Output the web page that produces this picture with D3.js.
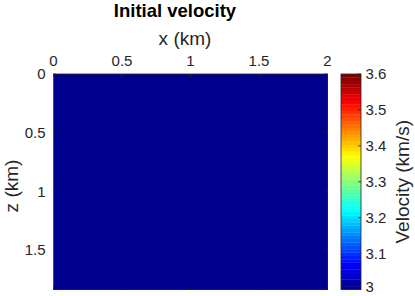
<!DOCTYPE html>
<html>
<head>
<meta charset="utf-8">
<script src="https://cdn.jsdelivr.net/npm/d3@7"></script>
<style>
  html, body { margin: 0; padding: 0; background: #fff; }
  svg { display: block; font-family: "Liberation Sans", Arial, sans-serif; }
</style>
</head>
<body>
<svg id="chart" width="415" height="296"></svg>
<script>
// Model grid (km) and velocity in each cell (km/s):
var xEdges = [0, 0.5, 1, 1.5, 2];
var zEdges = [0, 0.5, 1, 1.5, 1.84];
var velocity = [
  [3, 3, 3, 3],
  [3, 3, 3, 3],
  [3, 3, 3, 3],
  [3, 3, 3, 3]
];

var xTicks = [0, 0.5, 1, 1.5, 2];
var zTicks = [0, 0.5, 1, 1.5];
var cbTicks = [3, 3.1, 3.2, 3.3, 3.4, 3.5, 3.6];
var cbDomain = [3, 3.6];

var svg = d3.select("#chart");
var axisColor = "#262626";

// Plot box:
var plot = { left: 53.5, right: 327.5, top: 74, bottom: 289.5 };
var cb = { left: 341, right: 361, top: 74, bottom: 289.5 };

var x = d3.scaleLinear().domain([0, 2]).range([plot.left, plot.right]);
var z = d3.scaleLinear().domain([0, 1.84]).range([plot.top, plot.bottom]);

/** MATLAB's jet colormap, same recipe as jet.m */
function jet(n) {
  var m = Math.ceil(n / 4);
  var u = [];
  for (var i = 1; i <= m; i++) u.push(i / m);
  for (var i = 1; i < m; i++) u.push(1);
  for (var i = m; i >= 1; i--) u.push(i / m);
  var off = Math.ceil(m / 2) - (n % 4 === 1 ? 1 : 0);
  var rows = d3.range(n).map(function() { return [0, 0, 0]; });
  u.forEach(function(v, k) {
    var g = off + k + 1, r = g + m, b = g - m;
    if (r >= 1 && r <= n) rows[r - 1][0] = v;
    if (g >= 1 && g <= n) rows[g - 1][1] = v;
    if (b >= 1 && b <= n) rows[b - 1][2] = v;
  });
  return rows.map(function(c) {
    return d3.rgb(c[0] * 255, c[1] * 255, c[2] * 255).formatHex();
  });
}
var cmap = jet(64);
var colorOf = d3.scaleQuantize().domain(cbDomain).range(cmap);

// The velocity cells:
var cells = [];
velocity.forEach(function(row, j) {
  row.forEach(function(v, i) {
    cells.push({ x0: xEdges[i], x1: xEdges[i + 1], z0: zEdges[j], z1: zEdges[j + 1], v: v });
  });
});
svg.append("g").selectAll("rect")
  .data(cells)
  .enter().append("rect")
  .attr("x", function(d) { return x(d.x0); })
  .attr("y", function(d) { return z(d.z0); })
  .attr("width", function(d) { return x(d.x1) - x(d.x0) + 0.5; })
  .attr("height", function(d) { return z(d.z1) - z(d.z0) + 0.5; })
  .attr("fill", function(d) { return colorOf(d.v); })
  .attr("shape-rendering", "crispEdges");

// Box and inward ticks on all four sides:
var tl = 3;
var frame = svg.append("g").attr("stroke", axisColor).attr("stroke-width", 0.8).attr("fill", "none");
frame.append("rect")
  .attr("x", plot.left).attr("y", plot.top)
  .attr("width", plot.right - plot.left).attr("height", plot.bottom - plot.top);
xTicks.forEach(function(t) {
  frame.append("line").attr("x1", x(t)).attr("x2", x(t)).attr("y1", plot.top).attr("y2", plot.top + tl);
  frame.append("line").attr("x1", x(t)).attr("x2", x(t)).attr("y1", plot.bottom).attr("y2", plot.bottom - tl);
});
zTicks.forEach(function(t) {
  frame.append("line").attr("x1", plot.left).attr("x2", plot.left + tl).attr("y1", z(t)).attr("y2", z(t));
  frame.append("line").attr("x1", plot.right).attr("x2", plot.right - tl).attr("y1", z(t)).attr("y2", z(t));
});

// Tick labels:
var fmt = function(d) { return String(d); };
svg.append("g").selectAll("text")
  .data(xTicks)
  .enter().append("text")
  .attr("x", function(d) { return x(d); })
  .attr("y", 65.5)
  .attr("text-anchor", "middle")
  .attr("font-size", 15)
  .attr("fill", axisColor)
  .text(fmt);
svg.append("g").selectAll("text")
  .data(zTicks)
  .enter().append("text")
  .attr("x", 45.5)
  .attr("y", function(d) { return z(d); })
  .attr("dy", "0.36em")
  .attr("text-anchor", "end")
  .attr("font-size", 15)
  .attr("fill", axisColor)
  .text(fmt);

// Axis labels and title:
svg.append("text")
  .attr("x", 185).attr("y", 45)
  .attr("text-anchor", "middle")
  .attr("font-size", 19)
  .attr("fill", axisColor)
  .text("x (km)");
svg.append("text")
  .attr("transform", "translate(18,186) rotate(-90)")
  .attr("text-anchor", "middle")
  .attr("font-size", 19)
  .attr("fill", axisColor)
  .text("z (km)");
svg.append("text")
  .attr("x", 175).attr("y", 16.5)
  .attr("text-anchor", "middle")
  .attr("font-size", 18.5)
  .attr("font-weight", "bold")
  .attr("fill", "#000")
  .text("Initial velocity");

// Colorbar: one band per colormap entry
var cbY = d3.scaleLinear().domain(cbDomain).range([cb.bottom, cb.top]);
var step = (cbDomain[1] - cbDomain[0]) / cmap.length;
svg.append("g").selectAll("rect")
  .data(cmap)
  .enter().append("rect")
  .attr("x", cb.left)
  .attr("width", cb.right - cb.left)
  .attr("y", function(d, i) { return cbY(cbDomain[0] + (i + 1) * step); })
  .attr("height", function(d, i) { return cbY(cbDomain[0] + i * step) - cbY(cbDomain[0] + (i + 1) * step) + 0.3; })
  .attr("fill", function(d) { return d; });
var cbFrame = svg.append("g").attr("stroke", axisColor).attr("stroke-width", 0.8).attr("fill", "none");
cbFrame.append("rect")
  .attr("x", cb.left).attr("y", cb.top)
  .attr("width", cb.right - cb.left).attr("height", cb.bottom - cb.top);
cbTicks.forEach(function(t) {
  cbFrame.append("line").attr("x1", cb.right).attr("x2", cb.right - tl).attr("y1", cbY(t)).attr("y2", cbY(t));
});
svg.append("g").selectAll("text")
  .data(cbTicks)
  .enter().append("text")
  .attr("x", 365.5)
  // The lowest label would run off the bottom edge, keep it just inside:
  .attr("y", function(d) { return Math.min(cbY(d), 287); })
  .attr("dy", "0.34em")
  .attr("font-size", 15)
  .attr("fill", axisColor)
  .text(function(d) { return d3.format(".1~f")(d); });
svg.append("text")
  .attr("transform", "translate(409," + ((cb.top + cb.bottom) / 2) + ") rotate(-90)")
  .attr("text-anchor", "middle")
  .attr("font-size", 19)
  .attr("fill", axisColor)
  .text("Velocity (km/s)");
</script>
</body>
</html>
